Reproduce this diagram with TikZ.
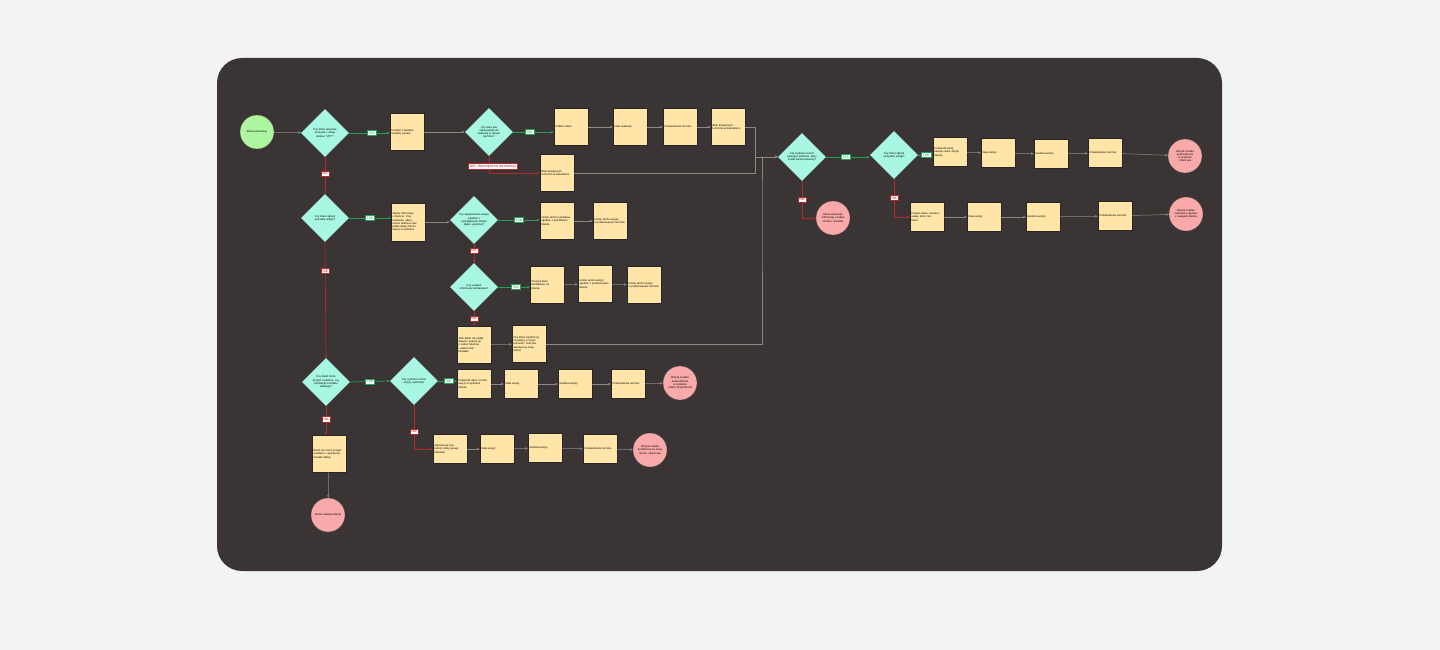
\documentclass[tikz,border=0pt]{standalone}
\usepackage{fontspec}
\setmainfont{Liberation Sans}
\usetikzlibrary{shapes.geometric,arrows.meta}
\definecolor{pagebg}{HTML}{F3F3F3}
\definecolor{panel}{HTML}{3A3534}
\definecolor{decc}{HTML}{A8F7E2}
\definecolor{boxc}{HTML}{FFE6A8}
\definecolor{startc}{HTML}{AEF5A0}
\definecolor{endc}{HTML}{F9A9A9}
\definecolor{yesc}{HTML}{22A055}
\definecolor{noc}{HTML}{B02A2A}
\definecolor{edgec}{HTML}{8C8782}
\newcommand\tf{\fontsize{2.7pt}{3.3pt}\selectfont}
\begin{document}
\begin{tikzpicture}[x=1pt,y=-1pt,
  dec/.style={diamond, fill=decc, minimum width=48pt, minimum height=48pt, inner sep=0pt, text width=30pt, align=center, font=\tf},
  box/.style={rectangle, fill=boxc, draw=black!85, line width=0.4pt, minimum width=34pt, minimum height=37pt, text width=31pt, inner sep=1.5pt, align=left, font=\tf},
  sbox/.style={box, minimum height=29pt},
  startn/.style={circle, fill=startc, draw=black!70, line width=0.3pt, minimum size=34pt, inner sep=0pt, text width=28pt, align=center, font=\tf},
  endn/.style={circle, fill=endc, draw=black!70, line width=0.3pt, minimum size=34pt, inner sep=0pt, text width=29pt, align=center, font=\tf},
  lab/.style={fill=white, draw, inner sep=1.2pt, line width=0.6pt, font=\fontsize{3.6pt}{4pt}\selectfont},
  yeslab/.style={lab, draw=yesc, text=yesc},
  nolab/.style={lab, draw=noc, text=noc},
  ed/.style={draw=edgec, line width=0.5pt, -{Stealth[length=3pt,width=2.6pt]}},
  yes/.style={draw=yesc, line width=0.7pt, -{Stealth[length=3pt,width=2.6pt]}},
  no/.style={draw=noc, line width=0.7pt, -{Stealth[length=3pt,width=2.6pt]}}
]
\fill[pagebg] (0,0) rectangle (1440,650);
\fill[panel, rounded corners=25pt] (217,58) rectangle (1222,571);

% top-left area
\node[startn] (S) at (257,132) {Klient potrzebuje};
\node[dec] (D1) at (325,133) {Czy klient aktywnie\\korzysta z usług\\statusu "VIP"?};
\node[box] (B1) at (407,132) {Kontakt z klientem\\osobisty (email)};
\node[dec] (D2) at (489,132) {Czy data jest\\odpowiednia do\\realizacji w danym\\terminie?};
\node[box] (B2) at (571,127) {Pobierz dane};
\node[box] (B3) at (630,127) {Data realizacji};
\node[box] (B4) at (680,127) {Potwierdzenie terminu};
\node[box] (B5) at (728,127) {Brak dostępnych\\terminów w kalendarzu};
\node[box] (B6) at (557,173) {Brak dostępnych\\terminów w kalendarzu};

% second row
\node[dec] (D5) at (325,218) {Czy klient zgłosił\\potrzebę wizyty?};
\node[box, minimum height=38pt] (B7) at (408,222) {Zapisz informacje\\o kliencie: imię,\\nazwisko, adres,\\numer telefonu oraz\\preferowany termin\\wizyty w systemie};
\node[dec] (D6) at (474,220) {Czy zaplanowano wizytę\\zgodnie z\\wymaganiami klienta\\(data i godzina)?};
\node[box] (B8) at (557,221) {Umów termin spotkania\\zgodnie z potrzebami\\klienta};
\node[box] (B9) at (610,221) {Umów termin wizyty\\w preferowanym terminie};
\node[dec] (D7) at (474,287) {Czy podano\\informacje kontaktowe?};
\node[box] (B10) at (547,285) {Przyjmij dane\\kontaktowe od\\klienta};
\node[box] (B11) at (595,284) {Umów termin wizyty\\zgodnie z preferencjami\\klienta};
\node[box] (B12) at (644,285) {Umów termin wizyty\\w preferowanym terminie};
\node[box] (B13) at (474,345) {Jeśli klient nie podał\\danych, poproś go\\o numer telefonu\\i ustal termin\\kontaktu};
\node[box] (B14) at (529,344) {Czy klient zgodził się\\na wizytę w innym\\terminie? Jeśli tak,\\zaproponuj nowy\\termin};

% bottom-left area
\node[dec] (D8) at (326,382) {Czy klient może\\przyjść osobiście, czy\\potrzebuje kontaktu\\zdalnego?};
\node[dec] (D9) at (414,381) {Czy wybrano termin\\wizyty osobistej?};
\node[sbox] (B15) at (474,384) {Potwierdź dane i termin\\wizyty w systemie\\klienta};
\node[sbox] (B16) at (521,384) {Data wizyty};
\node[sbox] (B17) at (575,384) {Godzina wizyty};
\node[sbox] (B18) at (628,384) {Potwierdzenie terminu};
\node[endn] (E4) at (680,383) {Wizyta została\\potwierdzona w systemie\\i klient otrzymał info};
\node[sbox] (B19) at (450,449) {Zaproponuj inny\\termin, który pasuje\\klientowi};
\node[sbox] (B20) at (497,449) {Data wizyty};
\node[sbox] (B21) at (545,448) {Godzina wizyty};
\node[sbox] (B22) at (600,449) {Potwierdzenie terminu};
\node[endn] (E5) at (650,450) {Wizyta została\\przełożona na nowy\\termin i klient wie};
\node[box] (B23) at (329,454) {Klient nie może przyjść\\osobiście, zaproponuj\\kontakt zdalny};
\node[endn] (E6) at (328,515) {Koniec obsługi klienta};

% right area
\node[dec] (D3) at (802,157) {Czy wybrano termin\\pasujący klientowi, który\\został zarezerwowany?};
\node[endn] (E2) at (833,218) {Klient otrzymuje\\informację o braku\\terminu i kontakt};
\node[dec] (D4) at (894,155) {Czy klient zgłosił\\wszystkie uwagi?};
\node[sbox] (R1a) at (950,152) {Potwierdź kartę\\klienta i dane wizyty\\klienta};
\node[sbox] (R1b) at (998,153) {Data wizyty};
\node[sbox] (R1c) at (1051,154) {Godzina wizyty};
\node[sbox] (R1d) at (1105,153) {Potwierdzenie terminu};
\node[endn] (E1) at (1185,156) {Wizyta została\\potwierdzona w systemie\\i klient wie};
\node[sbox] (R2a) at (927,217) {Popraw dane, zaznacz\\uwagi, które ma\\klient};
\node[sbox] (R2b) at (984,217) {Data wizyty};
\node[sbox] (R2c) at (1043,217) {Godzina wizyty};
\node[sbox] (R2d) at (1115,216) {Potwierdzenie terminu};
\node[endn] (E3) at (1186,214) {Wizyta została\\zmieniona zgodnie\\z uwagami klienta};

\coordinate (J1) at (755,157);
\coordinate (J2) at (762,200);

% connectors top
\draw[ed] (S) -- (D1);
\draw[yes] (D1.east) -- (D1.east -| B1.west) node[yeslab, pos=0.55] {TAK};
\draw[ed] (B1.east) -- (D2.west);
\draw[yes] (D2.east) -- (D2.east -| B2.west) node[yeslab, pos=0.4] {TAK};
\draw[no] (D2.south) |- (B6.west) node[nolab, pos=0.3, xshift=4pt] {NIE, Wewnętrzna rezerwacja};
\draw[ed] (B2) -- (B3);
\draw[ed] (B3) -- (B4);
\draw[ed] (B4) -- (B5);
\draw[ed] (B5.east) -| (J1) -- (D3.west);
\draw[ed] (B6.east) -| (J1) -- (D3.west);
\draw[ed] (B14.east) -| (J2) |- (D3.west);

% second row connectors
\draw[no] (D1.south) -- (D5.north) node[nolab, pos=0.45] {NIE};
\draw[yes] (D5.east) -- (D5.east -| B7.west) node[yeslab, pos=0.5] {TAK};
\draw[ed] (B7.east) -- (B7.east -| D6.west);
\draw[yes] (D6.east) -- (D6.east -| B8.west) node[yeslab, pos=0.5] {TAK};
\draw[ed] (B8) -- (B9);
\draw[no] (D6.south) -- (D7.north) node[nolab, pos=0.35] {NIE};
\draw[yes] (D7.east) -- (D7.east -| B10.west) node[yeslab, pos=0.55] {TAK};
\draw[ed] (B10) -- (B11);
\draw[ed] (B11) -- (B12);
\draw[no] (D7.south) -- (B13.north) node[nolab, pos=0.5] {NIE};
\draw[ed] (B13) -- (B14);

% bottom-left connectors
\draw[no] (D5.south) -- (D8.north) node[nolab, pos=0.25] {NIE};
\draw[yes] (D8.east) -- (D9.west) node[yeslab, pos=0.5] {TAK};
\draw[yes] (D9.east) -- (D9.east -| B15.west) node[yeslab, pos=0.55] {TAK};
\draw[ed] (B15) -- (B16);
\draw[ed] (B16) -- (B17);
\draw[ed] (B17) -- (B18);
\draw[ed] (B18) -- (E4);
\draw[no] (D9.south) |- (B19.west) node[nolab, pos=0.3] {Nie};
\draw[ed] (B19) -- (B20);
\draw[ed] (B20) -- (B21);
\draw[ed] (B21) -- (B22);
\draw[ed] (B22) -- (E5);
\draw[no] (D8.south) -- (D8.south |- B23.north) node[nolab, pos=0.45] {Nie};
\draw[ed] (B23) -- (E6);

% right connectors
\draw[yes] (D3.east) -- (D3.east -| D4.west) node[yeslab, pos=0.45] {TAK};
\draw[yes] (D4.east) -- (D4.east -| R1a.west) node[yeslab, pos=0.55] {TAK};
\draw[ed] (R1a) -- (R1b);
\draw[ed] (R1b) -- (R1c);
\draw[ed] (R1c) -- (R1d);
\draw[ed] (R1d) -- (E1);
\draw[no] (D3.south) |- (E2.west) node[nolab, pos=0.25] {Nie};
\draw[no] (D4.south) |- (R2a.west) node[nolab, pos=0.25] {Nie};
\draw[ed] (R2a) -- (R2b);
\draw[ed] (R2b) -- (R2c);
\draw[ed] (R2c) -- (R2d);
\draw[ed] (R2d) -- (E3);
\end{tikzpicture}
\end{document}
